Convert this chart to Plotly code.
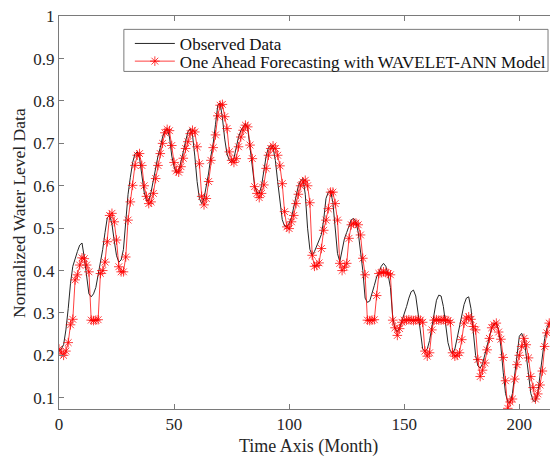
import plotly.graph_objects as go

months = list(range(0, 217))

observed = [
    0.21, 0.215, 0.225, 0.26, 0.31, 0.37, 0.41, 0.43, 0.445, 0.46,
    0.465, 0.43, 0.38, 0.345, 0.338, 0.345, 0.36, 0.39, 0.42, 0.45,
    0.49, 0.525, 0.53, 0.51, 0.47, 0.435, 0.42, 0.425, 0.45, 0.52,
    0.58, 0.62, 0.655, 0.675, 0.68, 0.665, 0.625, 0.585, 0.565, 0.565,
    0.585, 0.615, 0.645, 0.67, 0.69, 0.715, 0.73, 0.735, 0.715, 0.67,
    0.645, 0.63, 0.635, 0.655, 0.68, 0.705, 0.727, 0.735, 0.72, 0.67,
    0.61, 0.57, 0.558, 0.57, 0.6, 0.63, 0.67, 0.7, 0.745, 0.79,
    0.795, 0.76, 0.71, 0.675, 0.66, 0.655, 0.665, 0.69, 0.715, 0.73,
    0.74, 0.747, 0.735, 0.69, 0.64, 0.6, 0.585, 0.582, 0.6, 0.64,
    0.67, 0.69, 0.695, 0.69, 0.66, 0.61, 0.56, 0.52, 0.505, 0.503,
    0.512, 0.525, 0.55, 0.575, 0.6, 0.612, 0.617, 0.58, 0.5, 0.45,
    0.436, 0.445, 0.458, 0.47, 0.485, 0.52, 0.57, 0.585, 0.588, 0.56,
    0.5, 0.44, 0.421, 0.445, 0.475, 0.49, 0.505, 0.52, 0.523, 0.515,
    0.49, 0.45, 0.4, 0.335, 0.325, 0.328, 0.345, 0.365, 0.385, 0.395,
    0.41, 0.417, 0.41, 0.39, 0.36, 0.29, 0.262, 0.256, 0.265, 0.28,
    0.3, 0.315, 0.335, 0.35, 0.354, 0.34, 0.3, 0.25, 0.215, 0.209,
    0.215, 0.235, 0.265, 0.3, 0.33, 0.342, 0.34, 0.315, 0.27, 0.23,
    0.21, 0.205, 0.215, 0.24, 0.27, 0.295, 0.32, 0.335, 0.338, 0.31,
    0.25, 0.2, 0.175, 0.17, 0.18, 0.2, 0.225, 0.245, 0.265, 0.275,
    0.276, 0.26, 0.22, 0.16, 0.11, 0.09, 0.088, 0.11, 0.16, 0.21,
    0.245, 0.252, 0.24, 0.2, 0.15, 0.11, 0.093, 0.091, 0.11, 0.15,
    0.2, 0.24, 0.265, 0.275, 0.276, 0.25, 0.2,
]

forecast = [
    0.215, 0.205, 0.2, 0.21, 0.23, 0.272, 0.285, 0.378, 0.39, 0.413,
    0.43, 0.428, 0.413, 0.397, 0.283, 0.282, 0.283, 0.284, 0.393, 0.4,
    0.42, 0.468, 0.53, 0.535, 0.515, 0.472, 0.409, 0.397, 0.397, 0.432,
    0.519, 0.562, 0.601, 0.648, 0.672, 0.676, 0.648, 0.6, 0.575, 0.558,
    0.562, 0.582, 0.617, 0.648, 0.676, 0.7, 0.725, 0.733, 0.73, 0.695,
    0.655, 0.635, 0.632, 0.645, 0.665, 0.688, 0.704, 0.723, 0.731, 0.727,
    0.692, 0.652, 0.575, 0.555, 0.57, 0.61, 0.66, 0.69, 0.72, 0.765,
    0.79, 0.792, 0.763, 0.735, 0.68, 0.66, 0.655, 0.664, 0.692, 0.715,
    0.731, 0.743, 0.739, 0.696, 0.664, 0.598, 0.582, 0.572, 0.582, 0.602,
    0.641, 0.672, 0.688, 0.694, 0.688, 0.672, 0.647, 0.605, 0.539, 0.503,
    0.499, 0.515, 0.53, 0.558, 0.58, 0.6, 0.609, 0.613, 0.6, 0.56,
    0.436, 0.41, 0.412, 0.418, 0.452, 0.495, 0.519, 0.546, 0.585, 0.585,
    0.558, 0.519, 0.417, 0.4, 0.408, 0.417, 0.476, 0.508, 0.512, 0.512,
    0.508, 0.484, 0.429, 0.39, 0.283, 0.282, 0.283, 0.284, 0.341, 0.393,
    0.395, 0.397, 0.395, 0.393, 0.39, 0.283, 0.265, 0.247, 0.263, 0.278,
    0.283, 0.283, 0.284, 0.283, 0.282, 0.283, 0.284, 0.283, 0.278, 0.21,
    0.198, 0.206, 0.26, 0.283, 0.284, 0.283, 0.283, 0.284, 0.283, 0.282,
    0.278, 0.206, 0.198, 0.2, 0.206, 0.237, 0.276, 0.288, 0.291, 0.285,
    0.268, 0.26, 0.19, 0.15, 0.165, 0.182, 0.213, 0.24, 0.265, 0.272,
    0.276, 0.255, 0.238, 0.195, 0.14, 0.075, 0.09, 0.097, 0.144, 0.178,
    0.2, 0.221, 0.24, 0.225, 0.194, 0.15, 0.124, 0.097, 0.109, 0.13,
    0.163, 0.221, 0.253, 0.276, 0.274, 0.272, 0.237,
]

x_ticks = [0, 50, 100, 150, 200]
y_ticks = [0.1, 0.2, 0.3, 0.4, 0.5, 0.6, 0.7, 0.8, 0.9, 1.0]
y_tick_labels = ["0.1", "0.2", "0.3", "0.4", "0.5", "0.6", "0.7", "0.8", "0.9", "1"]

FONT = "Liberation Serif"
AX = "#7a7a7a"
TXT = "#262626"

fig = go.Figure()
fig.add_trace(go.Scatter(
    x=months, y=observed, mode="lines", name="Observed Data",
    line=dict(color="#262626", width=1), legend="legend",
))
fig.add_trace(go.Scatter(
    x=months, y=forecast, mode="lines+markers",
    name="One Ahead Forecasting with WAVELET-ANN Model",
    line=dict(color="rgba(255,0,0,0.75)", width=1),
    marker=dict(symbol="asterisk-open", size=8,
                line=dict(color="rgba(255,0,0,0.9)", width=1)),
    legend="legend2",
))

leg_common = dict(
    xanchor="left", yanchor="middle", bgcolor="rgba(0,0,0,0)", borderwidth=0,
    font=dict(family=FONT, size=17, color="#111"), itemwidth=40,
)

# the page body has an 8px margin, so the figure is 16px smaller than the window
fig.update_layout(
    width=550, height=453,
    margin=dict(l=51, r=0, t=7.5, b=51.7, autoexpand=False),
    paper_bgcolor="white", plot_bgcolor="white",
    font=dict(family=FONT, size=17, color=TXT),
    showlegend=True,
    legend=dict(x=0.142, y=0.929, **leg_common),
    legend2=dict(x=0.142, y=0.884, **leg_common),
    shapes=[dict(type="rect", xref="paper", yref="paper",
                 x0=0.130, x1=0.980, y0=0.859, y1=0.966,
                 fillcolor="white", line=dict(color=AX, width=1), layer="above")],
    xaxis=dict(
        range=[0, 216.8], tickvals=x_ticks, ticks="inside", ticklen=5,
        tickcolor=AX, showline=True, linecolor=AX, linewidth=1, mirror="ticks",
        showgrid=False, zeroline=False, automargin=False,
        ticklabeloverflow="allow",
        tickfont=dict(family=FONT, size=17, color=TXT),
    ),
    yaxis=dict(
        range=[0.0734, 1.0005], tickvals=y_ticks, ticktext=y_tick_labels,
        ticks="inside", ticklen=5, tickcolor=AX, showline=True, linecolor=AX,
        linewidth=1, mirror="ticks", showgrid=False, zeroline=False,
        automargin=False, ticklabeloverflow="allow",
        tickfont=dict(family=FONT, size=17, color=TXT),
    ),
    annotations=[
        dict(text="Time Axis (Month)", xref="paper", yref="paper",
             x=0.5, y=-0.0957, xanchor="center", yanchor="middle",
             showarrow=False, font=dict(family=FONT, size=18, color=TXT)),
        dict(text="Normalized Water Level Data", xref="paper", yref="paper",
             x=-0.0812, y=0.5, xanchor="center", yanchor="middle",
             textangle=-90, showarrow=False,
             font=dict(family=FONT, size=17.5, color=TXT)),
    ],
)

fig.write_html("out.html")
